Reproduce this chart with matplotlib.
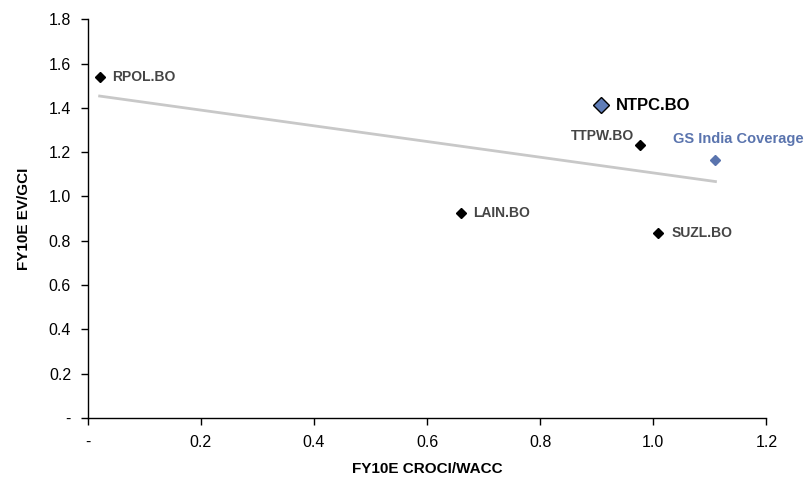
import numpy as np
import matplotlib
matplotlib.use("Agg")
import matplotlib.pyplot as plt
from matplotlib.ticker import FuncFormatter

plt.rcParams['font.family'] = ['Liberation Sans', 'DejaVu Sans']

names = ["RPOL.BO", "NTPC.BO", "TTPW.BO", "GS India Coverage", "LAIN.BO", "SUZL.BO"]
croci_wacc = [0.021, 0.908, 0.977, 1.110, 0.660, 1.009]
ev_gci = [1.538, 1.412, 1.231, 1.164, 0.925, 0.834]

xticks = [0, 0.2, 0.4, 0.6, 0.8, 1.0, 1.2]
yticks = [0, 0.2, 0.4, 0.6, 0.8, 1.0, 1.2, 1.4, 1.6, 1.8]

label_grey = "#454545"
gs_blue = "#5a74ae"

fig = plt.figure(figsize=(8.05, 4.8), dpi=100)
ax = fig.add_axes([0.109, 0.129, 0.843, 0.831])

# linear trend across all names
x = np.array(croci_wacc)
y = np.array(ev_gci)
slope, intercept = np.polyfit(x, y, 1)
xs = np.array([x.min(), x.max()])
ax.plot(xs, slope * xs + intercept, color="#c8c8c8", lw=2, zorder=1)

small = dict(marker="D", ms=5, mfc="black", mec="black")
styles = {
    "RPOL.BO": small,
    "NTPC.BO": dict(marker="D", ms=7.8, mfc="#5f7db8", mec="black", mew=1),
    "TTPW.BO": small,
    "GS India Coverage": dict(marker="D", ms=5, mfc=gs_blue, mec=gs_blue),
    "LAIN.BO": small,
    "SUZL.BO": small,
}
labels = {
    "RPOL.BO": dict(offset=(13, 0), ha="left", color=label_grey, size=10),
    "NTPC.BO": dict(offset=(15, 0), ha="left", color="black", size=12),
    "TTPW.BO": dict(offset=(-6, 9), ha="right", color=label_grey, size=10),
    "GS India Coverage": dict(offset=(23, 21), ha="center", color=gs_blue, size=10.5),
    "LAIN.BO": dict(offset=(12, 0), ha="left", color=label_grey, size=10),
    "SUZL.BO": dict(offset=(13, 0), ha="left", color=label_grey, size=10),
}

for n, xv, yv in zip(names, croci_wacc, ev_gci):
    ax.plot([xv], [yv], ls="none", zorder=3, **styles[n])
    lb = labels[n]
    ax.annotate(n, (xv, yv), xytext=lb["offset"], textcoords="offset pixels",
                ha=lb["ha"], va="center", color=lb["color"], fontsize=lb["size"],
                fontweight="bold")

ax.set_xlim(0, 1.2)
ax.set_ylim(0, 1.8)
ax.set_xticks(xticks)
ax.set_yticks(yticks)
fmt = FuncFormatter(lambda v, p: "-" if abs(v) < 1e-9 else f"{v:.1f}")
ax.xaxis.set_major_formatter(fmt)
ax.yaxis.set_major_formatter(fmt)
ax.tick_params(direction="out", length=5, width=1, labelsize=11.5, colors="black")
ax.tick_params(axis="x", pad=7)
ax.tick_params(axis="y", pad=7)

for s in ["top", "right"]:
    ax.spines[s].set_visible(False)
for s in ["left", "bottom"]:
    ax.spines[s].set_linewidth(1)
    ax.spines[s].set_color("black")

ax.set_xlabel("FY10E CROCI/WACC", fontsize=11, fontweight="bold", labelpad=9)
ax.set_ylabel("FY10E EV/GCI", fontsize=11, fontweight="bold", labelpad=13)

fig.savefig("out.png", dpi=100, facecolor="white")
